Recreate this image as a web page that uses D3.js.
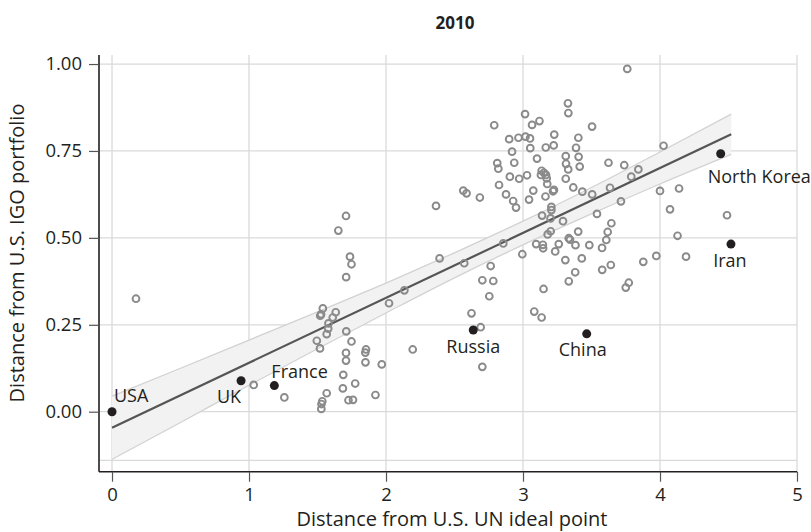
<!DOCTYPE html>
<html>
<head>
<meta charset="utf-8">
<script src="https://cdn.jsdelivr.net/npm/d3@7"></script>
<style>
body{margin:0;background:#fff;}
svg text{font-family:"Open Sans",Lato,sans-serif;fill:#231f20;}
</style>
</head>
<body>
<div id="chart"></div>
<script>
// other countries (open circles)
var ptsX = [0.175,1.034,1.258,1.708,1.652,1.737,1.748,1.709,1.539,1.526,1.520,1.633,1.611,1.580,1.578,1.567,1.495,1.518,1.710,1.748,
  1.854,1.849,1.708,1.708,1.850,1.969,2.022,2.134,2.195,1.688,1.775,1.685,1.567,1.535,1.529,1.528,1.726,1.759,1.923,
  2.365,2.391,2.571,2.856,2.764,2.703,2.783,2.754,2.624,2.691,2.703,2.995,3.096,3.145,3.147,3.180,3.202,3.261,3.235,3.334,3.343,
  3.403,3.383,3.484,3.309,3.429,3.381,3.334,3.150,3.577,3.608,3.618,3.645,3.578,3.641,3.878,3.973,4.128,3.772,3.750,3.082,3.136,
  3.292,4.190,4.489,
  3.761,3.328,3.331,3.015,2.790,3.066,3.120,3.504,3.228,2.899,2.967,3.018,3.051,3.404,4.026,2.920,3.053,3.166,3.224,3.387,
  3.102,3.312,3.406,2.812,2.820,2.936,3.314,3.330,3.414,3.624,3.739,3.842,3.790,2.904,2.972,3.029,3.136,3.153,3.131,3.168,
  3.173,3.312,2.825,3.177,3.367,3.433,3.226,3.219,3.075,2.564,2.588,2.685,2.876,3.164,3.505,3.635,2.928,2.949,3.044,3.207,
  3.207,3.139,3.201,3.540,3.715,4.000,4.139,4.073];
var ptsY = [0.325,0.077,0.041,0.563,0.521,0.446,0.424,0.387,0.297,0.280,0.276,0.286,0.271,0.254,0.239,0.223,0.204,0.182,0.231,0.202,
  0.179,0.170,0.169,0.147,0.142,0.136,0.312,0.349,0.179,0.106,0.081,0.067,0.053,0.030,0.022,0.008,0.033,0.034,0.048,
  0.592,0.441,0.427,0.484,0.419,0.378,0.376,0.332,0.283,0.243,0.129,0.453,0.482,0.480,0.470,0.510,0.519,0.482,0.461,0.499,0.495,
  0.518,0.479,0.479,0.436,0.441,0.401,0.375,0.353,0.471,0.494,0.517,0.542,0.408,0.422,0.431,0.448,0.506,0.371,0.357,0.288,0.271,
  0.548,0.446,0.565,
  0.986,0.887,0.859,0.856,0.824,0.825,0.836,0.820,0.797,0.784,0.788,0.791,0.786,0.788,0.765,0.748,0.758,0.760,0.766,0.759,
  0.728,0.735,0.733,0.715,0.699,0.716,0.713,0.697,0.705,0.716,0.709,0.697,0.676,0.676,0.670,0.680,0.693,0.687,0.681,0.681,
  0.671,0.670,0.652,0.655,0.645,0.633,0.638,0.634,0.636,0.636,0.628,0.616,0.625,0.619,0.625,0.644,0.606,0.587,0.610,0.589,
  0.580,0.564,0.556,0.569,0.605,0.635,0.642,0.582];

// labelled countries
var countryNames = ["USA","UK","France","Russia","China","North Korea","Iran"];
var countryX = [0, 0.942, 1.185, 2.637, 3.465, 4.443, 4.518];
var countryY = [0, 0.089, 0.075, 0.235, 0.224, 0.742, 0.482];

// linear fit and confidence band
var fitX = [0, 4.52];
var fitY = [-0.046, 0.798];
var bandX = [0, 0.5, 1, 1.5, 2, 2.5, 3, 3.5, 4, 4.52];
var bandLo = [-0.137, -0.031, 0.076, 0.181, 0.284, 0.385, 0.480, 0.569, 0.655, 0.740];
var bandHi = [0.045, 0.125, 0.206, 0.287, 0.370, 0.457, 0.548, 0.645, 0.747, 0.856];

var xTicks = [0, 1, 2, 3, 4, 5];
var yTicks = [0, 0.25, 0.5, 0.75, 1];
var yGrid = [-0.14, 0, 0.25, 0.5, 0.75, 1];

var width = 811, height = 532;
var padL = 99, padR = 797, padT = 55, padB = 471.7;

// where each label sits relative to its dot
var labelPos = {
  "USA": {dx: 2, dy: -10, anchor: "start"},
  "UK": {dx: 0, dy: 22, anchor: "end"},
  "France": {dx: -3, dy: -8, anchor: "start"},
  "Russia": {dx: 0, dy: 23, anchor: "middle"},
  "China": {dx: -4, dy: 22, anchor: "middle"},
  "North Korea": {dx: -13, dy: 29, anchor: "start"},
  "Iran": {dx: -1, dy: 23, anchor: "middle"}
};

var x = d3.scaleLinear().domain([-0.095, 5]).range([padL, padR]);
var y = d3.scaleLinear().domain([-0.1726, 1.026]).range([padB, padT]);

var svg = d3.select('#chart')
  .append('svg')
  .attr('width', width)
  .attr('height', height);

// grid
svg.append('g').selectAll('line')
  .data(yGrid)
  .enter()
  .append('line')
  .attr('x1', padL).attr('x2', padR)
  .attr('y1', function(d){ return y(d); })
  .attr('y2', function(d){ return y(d); })
  .attr('stroke', '#dadada')
  .attr('stroke-width', 1.3);

svg.append('g').selectAll('line')
  .data(xTicks)
  .enter()
  .append('line')
  .attr('x1', function(d){ return x(d); })
  .attr('x2', function(d){ return x(d); })
  .attr('y1', padT).attr('y2', padB)
  .attr('stroke', '#dadada')
  .attr('stroke-width', 1.3);

// confidence band
var band = bandX.map(function(d, i){ return {x: d, lo: bandLo[i], hi: bandHi[i]}; });
svg.append('path')
  .datum(band)
  .attr('d', d3.area()
    .x(function(d){ return x(d.x); })
    .y0(function(d){ return y(d.lo); })
    .y1(function(d){ return y(d.hi); })
    .curve(d3.curveMonotoneX))
  .attr('fill', '#f1f2f1')
  .attr('stroke', 'none');

['lo', 'hi'].forEach(function(k){
  svg.append('path')
    .datum(band)
    .attr('d', d3.line()
      .x(function(d){ return x(d.x); })
      .y(function(d){ return y(d[k]); })
      .curve(d3.curveMonotoneX))
    .attr('fill', 'none')
    .attr('stroke', '#d2d2d2')
    .attr('stroke-width', 1.3);
});

// fit line
svg.append('line')
  .attr('x1', x(fitX[0])).attr('y1', y(fitY[0]))
  .attr('x2', x(fitX[1])).attr('y2', y(fitY[1]))
  .attr('stroke', '#555')
  .attr('stroke-width', 2.2);

// points
svg.append('g').selectAll('circle')
  .data(ptsX)
  .enter()
  .append('circle')
  .attr('cx', function(d){ return x(d); })
  .attr('cy', function(d, i){ return y(ptsY[i]); })
  .attr('r', 3.4)
  .attr('fill', 'none')
  .attr('stroke', '#8a8a8a')
  .attr('stroke-width', 1.9);

svg.append('g').selectAll('circle')
  .data(countryNames)
  .enter()
  .append('circle')
  .attr('cx', function(d, i){ return x(countryX[i]); })
  .attr('cy', function(d, i){ return y(countryY[i]); })
  .attr('r', 4.5)
  .attr('fill', '#231f20');

svg.append('g').selectAll('text')
  .data(countryNames)
  .enter()
  .append('text')
  .attr('x', function(d, i){ return x(countryX[i]) + labelPos[d].dx; })
  .attr('y', function(d, i){ return y(countryY[i]) + labelPos[d].dy; })
  .attr('text-anchor', function(d){ return labelPos[d].anchor; })
  .style('font-size', '18px')
  .text(function(d){ return d; });

// axes
var xAxis = svg.append('g')
  .attr('transform', 'translate(0,' + padB + ')')
  .call(d3.axisBottom(x).tickValues(xTicks).tickSize(10).tickPadding(6).tickFormat(d3.format('d')));
xAxis.select('.domain').attr('d', 'M' + padL + ',0H' + padR).attr('stroke', '#231f20').attr('stroke-width', 1.6);
xAxis.selectAll('.tick line').attr('stroke', '#555').attr('stroke-width', 1.2);
xAxis.selectAll('.tick text').style('font-size', '18.5px').style('font-family', '"Open Sans"');

var yAxis = svg.append('g')
  .attr('transform', 'translate(' + padL + ',0)')
  .call(d3.axisLeft(y).tickValues(yTicks).tickSize(10).tickPadding(7).tickFormat(d3.format('.2f')));
yAxis.select('.domain').attr('d', 'M0,' + padT + 'V' + padB).attr('stroke', '#231f20').attr('stroke-width', 1.6);
yAxis.selectAll('.tick line').attr('stroke', '#555').attr('stroke-width', 1.2);
yAxis.selectAll('.tick text').style('font-size', '18.5px').style('font-family', '"Open Sans"');

// titles
svg.append('text')
  .attr('x', 455).attr('y', 29)
  .attr('text-anchor', 'middle')
  .style('font-size', '17px')
  .style('font-weight', 'bold')
  .text('2010');

svg.append('text')
  .attr('x', 452).attr('y', 526)
  .attr('text-anchor', 'middle')
  .style('font-size', '20px')
  .text('Distance from U.S. UN ideal point');

svg.append('text')
  .attr('transform', 'translate(24,253) rotate(-90)')
  .attr('text-anchor', 'middle')
  .style('font-size', '20px')
  .text('Distance from U.S. IGO portfolio');
</script>
</body>
</html>
